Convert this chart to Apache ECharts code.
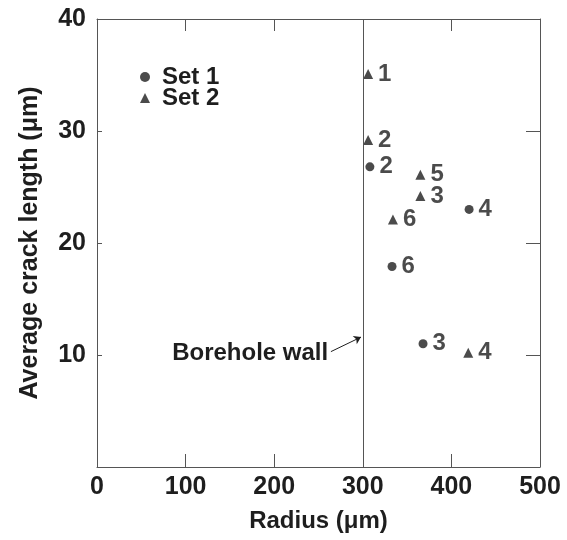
<!DOCTYPE html>
<html>
<head>
<meta charset="utf-8">
<script src="https://cdn.jsdelivr.net/npm/echarts@6/dist/echarts.min.js"></script>
<style>
html,body{margin:0;padding:0;background:#fff;}
#main{width:567px;height:540px;}
</style>
</head>
<body>
<div id="main"></div>
<script>
// Set 1 (circles)
var set1X = [308, 420, 333, 368];
var set1Y = [26.8, 23.0, 17.9, 11.0];
var set1Labels = ['2', '4', '6', '3'];
// Set 2 (triangles)
var set2X = [306, 306, 365, 365, 334, 419];
var set2Y = [35.1, 29.2, 26.1, 24.2, 22.1, 10.2];
var set2Labels = ['1', '2', '5', '3', '6', '4'];

var wallX = 300;

var ink = '#1e1e1e';
var axisCol = '#555';
var font = 'Liberation Sans';

function pts(xs, ys, labels){
	var out = [];
	for(var i=0;i<xs.length;i++){
		out.push({value:[xs[i], ys[i]], name:labels[i]});
	}
	return out;
}

var myChart = echarts.init(document.getElementById('main'));

var labelStyle = {
	show: true,
	position: 'right',
	distance: 5,
	formatter: '{b}',
	color: ink,
	fontFamily: font,
	fontWeight: 'bold',
	fontSize: 24
};

var option = {
	animation: false,
	grid: {left: 97, right: 27, top: 19, bottom: 73},
	legend: {
		orient: 'vertical',
		left: 135,
		top: 60,
		itemWidth: 10,
		itemHeight: 10,
		itemGap: -3,
		textStyle: {color: ink, fontFamily: font, fontWeight: 'bold', fontSize: 24,
			lineHeight: 23, padding: [0, 0, 0, 7]},
		data: [{name: 'Set 1', icon: 'circle'}, {name: 'Set 2', icon: 'triangle'}]
	},
	xAxis: [{
		type: 'value', min: 0, max: 500, interval: 100,
		name: 'Radius (\u03bcm)', nameLocation: 'middle', nameGap: 42,
		nameTextStyle: {color: ink, fontFamily: font, fontWeight: 'bold', fontSize: 24},
		axisLine: {onZero: false, lineStyle: {color: axisCol, width: 1}},
		axisTick: {inside: true, length: 13, lineStyle: {color: axisCol}},
		axisLabel: {color: ink, fontFamily: font, fontWeight: 'bold', fontSize: 25, margin: 8},
		splitLine: {show: false}
	}, {
		type: 'value', min: 0, max: 500, interval: 100, position: 'top',
		axisLine: {show: true, onZero: false, lineStyle: {color: axisCol, width: 1}},
		axisTick: {show: true, inside: true, length: 12, lineStyle: {color: axisCol}},
		axisLabel: {show: false},
		splitLine: {show: false}
	}],
	yAxis: [{
		type: 'value', min: 0, max: 40, interval: 10,
		name: 'Average crack length (\u03bcm)', nameLocation: 'middle', nameGap: 54,
		nameTextStyle: {color: ink, fontFamily: font, fontWeight: 'bold', fontSize: 25},
		axisLine: {show: true, onZero: false, lineStyle: {color: axisCol, width: 1}},
		axisTick: {show: true, inside: true, length: 5, lineStyle: {color: axisCol}},
		axisLabel: {color: ink, fontFamily: font, fontWeight: 'bold', fontSize: 25, margin: 11,
			formatter: function(v){ return v === 0 ? '' : v; }},
		splitLine: {show: false}
	}, {
		type: 'value', min: 0, max: 40, interval: 10, position: 'right',
		axisLine: {show: true, onZero: false, lineStyle: {color: axisCol, width: 1}},
		axisTick: {show: true, inside: true, length: 14, lineStyle: {color: axisCol}},
		axisLabel: {show: false},
		splitLine: {show: false}
	}],
	series: [{
		name: 'Set 1',
		type: 'scatter',
		symbol: 'circle',
		symbolSize: 9,
		itemStyle: {color: ink},
		label: labelStyle,
		data: pts(set1X, set1Y, set1Labels),
		markLine: {
			silent: true,
			symbol: ['none', 'none'],
			label: {show: false},
			lineStyle: {color: axisCol, width: 1, type: 'solid'},
			data: [[{coord: [wallX, 0]}, {coord: [wallX, 40]}]]
		}
	}, {
		name: 'Set 2',
		type: 'scatter',
		symbol: 'triangle',
		symbolSize: 10,
		itemStyle: {color: ink},
		label: labelStyle,
		data: pts(set2X, set2Y, set2Labels),
		markLine: {
			silent: true,
			symbol: ['none', 'arrow'],
			symbolSize: 7,
			label: {
				show: true, position: 'start', formatter: 'Borehole wall',
				color: ink, fontFamily: font, fontWeight: 'bold', fontSize: 24, distance: 3
			},
			lineStyle: {color: ink, width: 1, type: 'solid'},
			data: [[{coord: [264, 10.3]}, {coord: [298, 11.6]}]]
		}
	}]
};

myChart.setOption(option);
</script>
</body>
</html>
